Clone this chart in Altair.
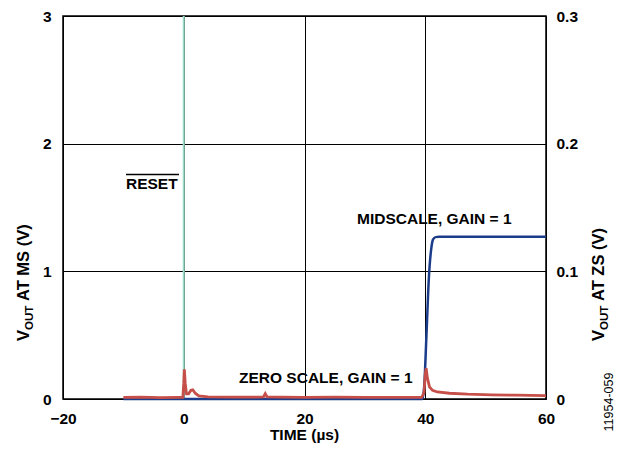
import altair as alt
import pandas as pd

# ---- data ----
time_ticks = [-20, 0, 20, 40, 60]
ms_ticks = [0, 1, 2, 3]
zs_ticks = [0, 0.1, 0.2, 0.3]

# midscale output (left axis, V)
ms_time = [-10, 39.5, 39.8, 40.2, 40.6, 41.0, 41.3, 41.7, 42.3, 50, 60]
ms_volts = [0, 0, 0.08, 0.5, 0.95, 1.18, 1.25, 1.268, 1.27, 1.27, 1.27]

# zero-scale output (right axis, V)
zs_time = [-10, -7, -4, -1, -0.15, 0.0, 0.1, 0.25, 0.45, 0.8, 1.2, 1.5, 1.9, 2.5, 4, 8, 12,
           13.2, 13.5, 13.8, 16, 20, 25, 30, 35, 39.4, 39.8, 40.0, 40.15, 40.35, 40.7,
           41.2, 42, 44, 47, 51, 55, 60]
zs_volts = [0.0012, 0.0014, 0.0011, 0.0013, 0.0013, 0.012, 0.0232, 0.012, 0.004, 0.004,
            0.0068, 0.0072, 0.0045, 0.0025, 0.0016, 0.0015, 0.0014, 0.0016, 0.0042, 0.0016,
            0.0015, 0.0013, 0.0015, 0.0013, 0.0013, 0.0013, 0.005, 0.019, 0.0242, 0.0165,
            0.0095, 0.0068, 0.0055, 0.0045, 0.0038, 0.0033, 0.003, 0.0027]

reset_time = [0]

BLUE = "#1b3c8a"
RED = "#c65049"
GREEN = "#9adbc9"
FONT = "Liberation Sans"
FS = 15.5
TFS = 16.5  # axis title font size

W, H = 483, 383

ms_df = pd.DataFrame({"t": ms_time, "v": ms_volts})
zs_df = pd.DataFrame({"t": zs_time, "v": zs_volts})
reset_df = pd.DataFrame({"t": reset_time})

x_scale = alt.Scale(domain=[-20, 60], nice=False, zero=False)
x_axis = alt.Axis(values=time_ticks, title=None, grid=True, gridColor="black",
                  gridWidth=1, gridOpacity=1, ticks=False, domain=False,
                  labelPadding=12, labelFlush=False, format="d")

green = alt.Chart(reset_df).mark_rule(color=GREEN, strokeWidth=2).encode(
    x=alt.X("t:Q", scale=x_scale, axis=x_axis),
    y=alt.value(0), y2=alt.value(H))

blue = alt.Chart(ms_df).mark_line(color=BLUE, strokeWidth=2.5, interpolate="monotone").encode(
    x=alt.X("t:Q", scale=x_scale, axis=x_axis),
    y=alt.Y("v:Q", scale=alt.Scale(domain=[0, 3], nice=False),
            axis=alt.Axis(orient="left", values=ms_ticks, title=None, grid=True,
                          gridColor="black", gridWidth=1, gridOpacity=1, ticks=False,
                          domain=False, labelPadding=12, format="d")))

red = alt.Chart(zs_df).mark_line(color=RED, strokeWidth=2.8).encode(
    x=alt.X("t:Q", scale=x_scale, axis=x_axis),
    y=alt.Y("v:Q", scale=alt.Scale(domain=[0, 0.3], nice=False),
            axis=alt.Axis(orient="right", values=zs_ticks, title=None, grid=False,
                          ticks=False, domain=False, labelPadding=10,
                          labelExpr="datum.value == 0 ? '0' : format(datum.value, '.1f')")))


def txt(s, x, y, size=FS, angle=0, align="left", weight="bold", baseline="alphabetic"):
    return alt.Chart(pd.DataFrame({"s": [s]})).mark_text(
        font=FONT, fontSize=size, fontWeight=weight, angle=angle, align=align,
        baseline=baseline, color="black").encode(
        x=alt.value(x), y=alt.value(y), text="s:N")


def ytitle(rest, xb, ybottom):
    # rotated title "V" + subscript "OUT" + rest, reading bottom to top
    v_w = 0.667 * TFS
    sub = 0.7 * TFS
    out_w = 2.111 * sub
    gap = 0.278 * TFS
    return [
        txt("V", xb, ybottom, size=TFS, angle=270),
        txt("OUT", xb + 3.5, ybottom - v_w, size=sub, angle=270),
        txt(rest, xb, ybottom - v_w - out_w - gap, size=TFS, angle=270),
    ]


texts = [
    txt("RESET", 63, 172.5),
    txt("MIDSCALE, GAIN = 1", 294, 208),
    txt("ZERO SCALE, GAIN = 1", 176, 366.5),
    txt("TIME (µs)", W / 2, 424, align="center"),
    *ytitle("AT MS (V)", -34, 325),
    *ytitle("AT ZS (V)", 541, 325),
    txt("11954-059", 550, 386, size=12.5, angle=270, align="center", weight="normal"),
]

overline = alt.Chart(pd.DataFrame({"a": [0]})).mark_rule(color="black", strokeWidth=1.5).encode(
    x=alt.value(63), x2=alt.value(116), y=alt.value(158.5))

chart = alt.layer(green, blue, red, overline, *texts).resolve_scale(
    y="independent"
).properties(
    width=W, height=H,
    autosize=alt.AutoSizeParams(type="none"),
    padding={"left": 55, "top": 8, "right": 69, "bottom": 46},
).configure_view(
    stroke="black", strokeWidth=1.5
).configure_axis(
    labelFont=FONT, labelFontSize=FS, labelFontWeight="bold", labelColor="black"
)

chart.save("out.html", embed_options={"renderer": "svg", "actions": False})
